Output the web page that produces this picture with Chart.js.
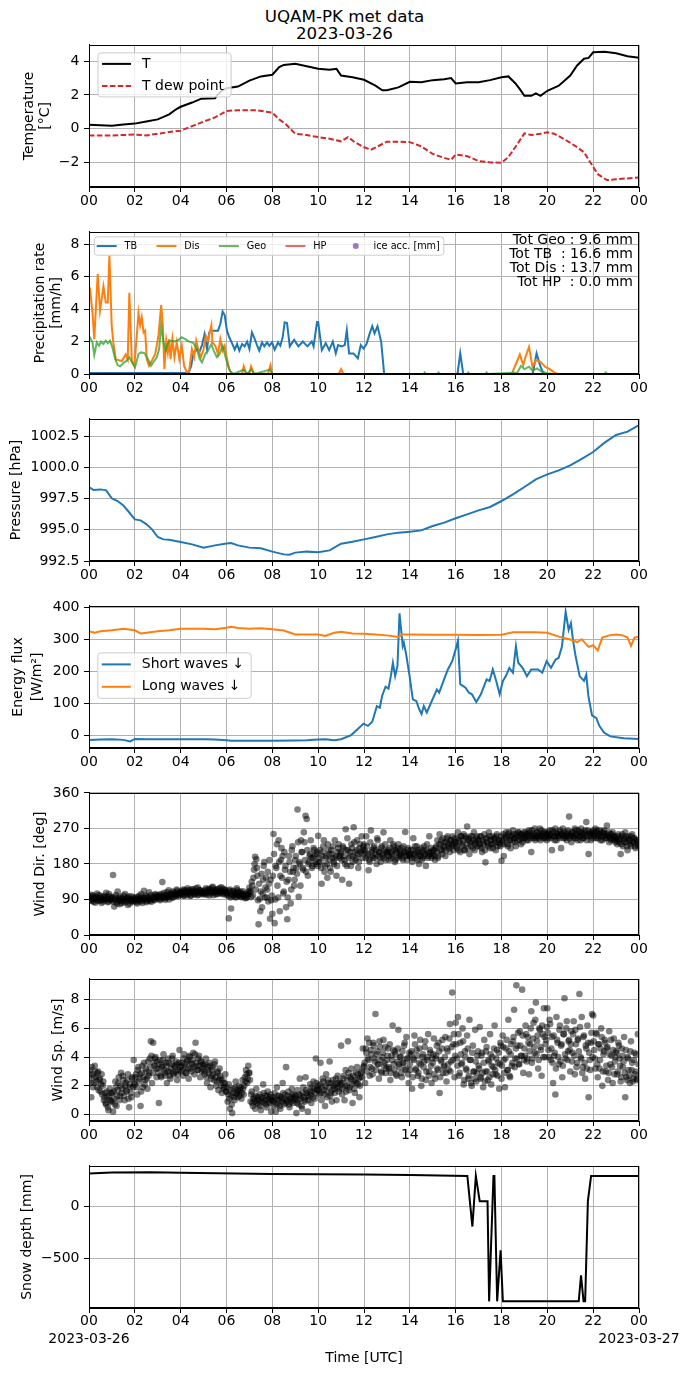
<!DOCTYPE html>
<html lang="en">
<head>
<meta charset="utf-8">
<title>UQAM-PK met data</title>
<script src="https://cdn.jsdelivr.net/npm/chart.js@4.4.1/dist/chart.umd.min.js"></script>
<style>
  html, body { margin: 0; padding: 0; background: #fff; }
  #page { position: relative; width: 689px; height: 1377px; overflow: hidden; }
  #page canvas { position: absolute; left: 0; }
  #suptitle {
    position: absolute; left: 0; top: 8.4px; width: 689px;
    text-align: center; color: #000;
    font-family: "DejaVu Sans", sans-serif; font-size: 16.7px; line-height: 16.6px;
  }
</style>
</head>
<body>
<div id="page">
  <div id="suptitle">UQAM-PK met data<br>2023-03-26</div>
  <canvas id="tempChart"></canvas>
  <canvas id="precipChart"></canvas>
  <canvas id="pressChart"></canvas>
  <canvas id="fluxChart"></canvas>
  <canvas id="dirChart"></canvas>
  <canvas id="speedChart"></canvas>
  <canvas id="snowChart"></canvas>
</div>
<script>
// ---- data (hours UTC) ----
const hourTicks = [0, 2, 4, 6, 8, 10, 12, 14, 16, 18, 20, 22, 24];
const dayLabels = ['2023-03-26', '2023-03-27'];

// air temperature / dew point [°C]
const tempHours = [0, 0.5, 1, 1.5, 2, 2.5, 3, 3.5, 3.8, 4, 4.5, 4.9, 5.5, 5.6, 5.8, 6, 6.5, 7, 7.5, 8,
  8.3, 8.5, 9, 9.5, 10, 10.5, 10.8, 11, 11.5, 12, 12.5, 12.8, 13, 13.5, 14, 14.5, 15, 15.5, 15.8, 16,
  16.5, 17, 17.5, 18, 18.3, 18.6, 18.8, 19, 19.3, 19.5, 19.7, 20, 20.5, 21, 21.3, 21.6, 21.8, 22, 22.5, 23,
  23.5, 24];
const tempAir = [0.24, 0.2, 0.17, 0.25, 0.3, 0.42, 0.55, 0.85, 1.15, 1.3, 1.55, 1.78, 1.8, 2.0, 2.25, 2.4, 2.5, 2.85, 3.1, 3.2,
  3.65, 3.78, 3.85, 3.7, 3.55, 3.5, 3.55, 3.15, 3.05, 2.9, 2.55, 2.28, 2.28, 2.45, 2.78, 2.75, 2.88, 2.93, 3.0, 2.68,
  2.75, 2.75, 2.88, 3.05, 3.1, 2.7, 2.35, 1.95, 1.95, 2.1, 1.95, 2.25, 2.55, 3.15, 3.75, 4.15, 4.2, 4.53, 4.57, 4.47,
  4.3, 4.2];
const dewHours = [0, 1, 2, 2.5, 3, 3.5, 4, 4.5, 5, 5.5, 6, 6.5, 7, 7.3, 8, 8.3, 8.6, 9, 9.5, 10,
  10.5, 11, 11.3, 11.6, 12, 12.3, 12.6, 13, 13.5, 14, 14.5, 15, 15.5, 15.8, 16, 16.5, 17, 17.5, 18, 18.3,
  18.6, 19, 19.3, 19.7, 20, 20.3, 20.8, 21.3, 21.6, 21.9, 22.2, 22.6, 23, 23.5, 24];
const dewPoint = [-0.4, -0.4, -0.35, -0.4, -0.3, -0.2, -0.12, 0.15, 0.42, 0.67, 1.05, 1.1, 1.1, 1.1, 0.95, 0.55, 0.25, -0.3, -0.38, -0.5,
  -0.6, -0.75, -0.5, -0.8, -1.1, -1.25, -1.05, -0.77, -0.77, -0.8, -1.05, -1.5, -1.73, -1.85, -1.53, -1.63, -1.92, -2.0, -2.02, -1.68,
  -1.1, -0.28, -0.38, -0.3, -0.22, -0.3, -0.67, -1.1, -1.4, -2.05, -2.7, -3.05, -3.0, -2.95, -2.9];
const tempTicks = [-2, 0, 2, 4];

// precipitation rate [mm/h]
const tbHours = [0, 4.34, 4.46, 4.56, 4.71, 4.81, 4.93, 5.04, 5.15, 5.25, 5.36, 5.63, 5.73, 5.83, 5.92, 6.02, 6.12, 6.24, 6.36, 6.46,
  6.56, 6.68, 6.79, 6.9, 7.0, 7.11, 7.22, 7.33, 7.43, 7.55, 7.65, 7.77, 7.87, 7.99, 8.1, 8.25, 8.35, 8.45, 8.54, 8.64,
  8.76, 8.95, 9.14, 9.33, 9.53, 9.72, 9.8, 9.95, 10.0, 10.16, 10.33, 10.48, 10.64, 10.77, 10.87, 11.02, 11.16, 11.25, 11.35, 11.54,
  11.73, 11.86, 11.98, 12.11, 12.25, 12.36, 12.46, 12.59, 12.75, 12.88, 16.08, 16.2, 16.33, 19.36, 19.53, 19.7, 19.84, 24];
const tbRate = [0.06, 0.06, 0.5, 1.33, 1.5, 1.33, 1.78, 2.44, 1.54, 2.56, 2.67, 2.67, 3.08, 3.84, 3.63, 2.67, 2.26, 1.9, 1.5, 1.85,
  1.44, 1.85, 1.7, 2.0, 1.54, 2.56, 2.2, 1.78, 1.44, 1.95, 1.7, 1.95, 1.74, 1.95, 1.5, 1.95, 1.74, 2.26, 3.18, 3.14,
  1.7, 2.1, 1.7, 2.0, 1.7, 2.0, 1.7, 3.2, 3.2, 1.47, 1.9, 1.47, 2.0, 1.27, 1.78, 1.7, 1.78, 2.7, 1.27, 1.27,
  0.96, 1.78, 1.57, 1.84, 2.5, 2.94, 2.5, 2.94, 1.98, 0, 0, 1.27, 0, 0, 1.27, 0.45, 0, 0];
const disHours = [0, 0.04, 0.15, 0.23, 0.38, 0.48, 0.63, 0.73, 0.82, 0.89, 0.99, 1.06, 1.17, 1.43, 1.6, 1.69, 1.76, 1.87, 1.98, 2.16,
  2.23, 2.3, 2.38, 2.45, 2.52, 2.62, 2.74, 2.89, 3.03, 3.15, 3.22, 3.29, 3.37, 3.44, 3.5, 3.56, 3.64, 3.73, 3.83, 3.94,
  4.05, 4.15, 4.27, 4.37, 4.49, 4.59, 4.68, 4.78, 4.88, 5.0, 5.1, 5.19, 5.34, 5.39, 5.51, 5.63, 5.73, 5.83, 5.92, 6.02,
  6.12, 6.24, 6.68, 6.75, 6.85, 7.0, 7.07, 7.19, 7.81, 7.92, 7.99, 10.9, 11.0, 11.1, 18.45, 18.8, 18.95, 19.05, 19.2, 19.35,
  19.5, 19.7, 19.9, 20.1, 20.3, 20.45, 24];
const disRate = [5.2, 5.33, 3.8, 2.15, 6.15, 3.9, 5.4, 4.4, 4.4, 7.3, 3.0, 1.95, 0.9, 0.8, 1.2, 0.9, 5.0, 0.82, 0.5, 3.75,
  3.0, 3.5, 2.56, 2.67, 0.92, 0.5, 0.82, 1.23, 2.36, 4.25, 3.0, 0.3, 2.05, 1.33, 2.15, 0.92, 2.15, 1.03, 1.95, 0.92,
  1.74, 0.5, 0.1, 0.2, 1.54, 1.03, 2.05, 1.44, 1.03, 1.54, 2.36, 2.05, 3.0, 1.95, 1.74, 1.23, 2.15, 1.44, 1.74, 0.92,
  0.3, 0, 0, 0.47, 0.06, 0.06, 0.47, 0.02, 0.02, 0.55, 0, 0, 0.3, 0, 0, 1.2, 0.55, 1.06, 1.67, 0.45,
  0.85, 0.75, 0.45, 0.3, 0.1, 0, 0];
const geoHours = [0, 0.04, 0.15, 0.23, 0.34, 0.44, 0.52, 0.63, 0.73, 0.82, 0.92, 1.02, 1.14, 1.25, 1.36, 1.5, 1.65, 1.76, 1.87, 2.01,
  2.16, 2.27, 2.42, 2.57, 2.71, 2.81, 2.96, 3.06, 3.15, 3.25, 3.35, 3.47, 3.62, 3.76, 3.91, 4.05, 4.2, 4.37, 4.56, 4.71,
  4.83, 4.93, 5.07, 5.19, 5.34, 5.44, 5.58, 5.7, 5.83, 5.95, 6.06, 6.17, 6.31, 6.75, 6.9, 7.08, 7.23, 7.89, 8.02, 14.6,
  14.65, 14.7, 15.2, 15.25, 15.3, 16.5, 16.55, 16.6, 17.3, 17.35, 17.4, 18.7, 18.85, 19.0, 19.2, 19.35, 19.55, 19.75, 20.0, 20.2,
  22.5, 22.55, 22.6, 24];
const geoRate = [2.3, 2.26, 1.95, 1.17, 1.95, 1.74, 1.99, 1.85, 2.05, 1.9, 2.05, 1.64, 0.92, 0.55, 0.47, 0.68, 0.82, 1.03, 0.72, 0.41,
  1.23, 1.33, 1.29, 0.92, 0.51, 0.72, 1.03, 1.54, 3.0, 1.95, 1.44, 2.0, 2.05, 2.0, 2.1, 2.26, 2.15, 1.99, 1.9, 1.54,
  0.92, 0.72, 1.23, 1.44, 1.85, 1.44, 1.03, 1.23, 1.74, 1.1, 0.51, 0.15, 0, 0.27, 0, 0.27, 0, 0.27, 0, 0,
  0.1, 0, 0, 0.1, 0, 0, 0.1, 0, 0, 0.1, 0, 0.1, 0.5, 0.3, 0.45, 0.2, 0.35, 0.15, 0.05, 0,
  0, 0.1, 0, 0];
const hpHours = [0, 24];
const hpRate = [0, 0];
const precipTicks = [0, 2, 4, 6, 8];
const totLabels = ['Tot Geo : 9.6 mm', 'Tot TB  : 16.6 mm', 'Tot Dis : 13.7 mm', 'Tot HP  : 0.0 mm'];

// pressure [hPa]
const pressHours = [0, 0.2, 0.5, 0.75, 1, 1.25, 1.5, 1.75, 2, 2.25, 2.5, 2.75, 3, 3.25, 3.5, 4, 4.5, 5, 5.5, 6,
  6.2, 6.5, 7, 7.5, 8, 8.5, 8.75, 9, 9.5, 10, 10.5, 11, 11.5, 12, 12.5, 13, 13.5, 14, 14.5, 15,
  15.5, 16, 16.5, 17, 17.5, 18, 18.5, 19, 19.5, 20, 20.5, 21, 21.5, 22, 22.5, 23, 23.5, 24];
const pressure = [998.42, 998.18, 998.23, 998.15, 997.5, 997.3, 996.95, 996.4, 995.83, 995.75, 995.45, 995.03, 994.42, 994.23, 994.2, 994.02, 993.83, 993.57, 993.75, 993.9,
  993.93, 993.75, 993.57, 993.52, 993.25, 993.03, 993.0, 993.17, 993.25, 993.2, 993.35, 993.88, 994.04, 994.23, 994.42, 994.63, 994.77, 994.85, 994.95, 995.3,
  995.57, 995.92, 996.23, 996.55, 996.82, 997.3, 997.83, 998.42, 999.03, 999.43, 999.75, 1000.15, 1000.68, 1001.22, 1001.97, 1002.58, 1002.85, 1003.38];
const pressTicks = [992.5, 995, 997.5, 1000, 1002.5];

// downward radiation [W/m2]
const swHours = [0, 0.5, 1, 1.5, 1.8, 2, 2.5, 3, 4, 5, 5.5, 6, 6.2, 7, 8, 9, 9.5, 10, 10.3, 10.7,
  11, 11.44, 11.73, 11.98, 12.17, 12.36, 12.56, 12.69, 12.79, 12.94, 13.07, 13.17, 13.26, 13.36, 13.46, 13.55, 13.69, 13.74, 13.84, 13.99,
  14.13, 14.28, 14.41, 14.51, 14.61, 14.74, 14.99, 15.18, 15.28, 15.47, 15.66, 15.85, 16.0, 16.1, 16.2, 16.43, 16.58, 16.71, 16.9, 17.1,
  17.35, 17.48, 17.62, 17.77, 17.92, 18.06, 18.19, 18.34, 18.5, 18.63, 18.73, 18.92, 19.11, 19.3, 19.59, 19.78, 19.97, 20.16, 20.36, 20.49,
  20.64, 20.8, 20.93, 21.03, 21.12, 21.22, 21.41, 21.6, 21.7, 21.79, 21.95, 22.14, 22.27, 22.47, 22.75, 23.33, 24];
const shortWave = [-15, -14, -13, -15, -20, -12, -13, -13, -13, -13, -14, -16, -18, -18, -18, -17, -16, -14, -13, -16,
  -13, 0, 19, 36, 29, 42, 91, 86, 123, 152, 146, 185, 227, 185, 217, 382, 279, 290, 253, 185,
  112, 107, 81, 66, 91, 71, 112, 143, 133, 170, 206, 232, 269, 297, 160, 149, 133, 128, 104, 128,
  175, 170, 206, 170, 128, 170, 185, 211, 196, 279, 227, 211, 185, 206, 206, 196, 232, 211, 237, 242,
  279, 387, 330, 351, 299, 253, 185, 170, 190, 123, 62, 53, 29, 8, -4, -10, -12];
const lwHours = [0, 0.25, 0.5, 1, 1.5, 2, 2.25, 2.5, 3, 3.5, 4, 4.5, 5, 5.5, 6, 6.2, 6.5, 7, 7.5, 8,
  8.5, 9, 9.5, 10, 10.3, 10.7, 11, 11.5, 12, 12.5, 13, 13.5, 13.7, 14, 15, 16, 17, 18, 18.5, 19,
  19.5, 20, 20.5, 21, 21.3, 21.5, 21.8, 22, 22.2, 22.4, 22.7, 23, 23.3, 23.5, 23.65, 23.8, 24];
const longWave = [326, 321, 326, 329, 334, 329, 319, 321, 326, 329, 334, 334, 334, 332, 337, 340, 336, 334, 335, 332,
  328, 316, 316, 316, 311, 321, 324, 319, 318, 316, 313, 308, 316, 316, 315, 315, 314, 315, 323, 323,
  323, 321, 309, 300, 292, 301, 277, 282, 266, 306, 313, 316, 313, 306, 280, 306, 309];
const fluxTicks = [0, 100, 200, 300, 400];

// wind, one row per hour, 3-min samples; the "B" arrays sit halfway between
const windDir = [
  95, 88, 102, 90, 84, 97, 92, 105, 86, 93, 99, 81, 90, 96, 88, 107, 92, 85, 98, 91,
  88, 152, 72, 95, 84, 110, 90, 78, 93, 86, 100, 82, 89, 95, 76, 91, 87, 98, 84, 92,
  86, 95, 80, 91, 99, 85, 93, 88, 112, 94, 83, 97, 90, 86, 101, 92, 95, 88, 104, 96,
  92, 98, 88, 104, 134, 95, 100, 93, 108, 97, 90, 103, 99, 110, 96, 105, 101, 112, 98, 106,
  108, 103, 115, 99, 110, 106, 118, 104, 112, 100, 109, 116, 103, 111, 107, 120, 102, 113, 108, 105,
  110, 104, 118, 107, 113, 100, 116, 109, 122, 106, 111, 103, 115, 108, 119, 112, 105, 117, 110, 113,
  102, 108, 42, 115, 67, 98, 112, 104, 95, 118, 106, 100, 110, 97, 104, 99, 93, 101, 96, 104,
  120, 108, 135, 100, 165, 198, 192, 150, 27, 92, 110, 70, 140, 185, 120, 95, 160, 130, 41, 88,
  54, 256, 30, 175, 230, 95, 185, 150, 220, 200, 110, 165, 70, 40, 140, 185, 80, 215, 160, 125,
  190, 170, 318, 97, 180, 240, 210, 165, 235, 302, 294, 150, 185, 205, 195, 175, 220, 200, 180, 210,
  251, 195, 185, 130, 210, 240, 175, 200, 145, 215, 190, 160, 205, 225, 180, 195, 150, 210, 230, 200,
  205, 140, 220, 190, 268, 175, 215, 130, 200, 230, 185, 273, 210, 195, 240, 170, 220, 205, 250, 215,
  230, 210, 250, 200, 164, 185, 265, 215, 195, 225, 205, 180, 240, 210, 195, 220, 200, 260, 215, 190,
  205, 215, 190, 240, 210, 200, 225, 185, 215, 195, 230, 205, 200, 220, 190, 210, 261, 205, 215, 200,
  200, 215, 185, 245, 205, 195, 225, 210, 180, 200, 220, 195, 215, 205, 175, 230, 200, 250, 210, 195,
  205, 215, 190, 225, 240, 200, 255, 230, 215, 245, 220, 200, 235, 250, 225, 210, 240, 230, 215, 245,
  235, 220, 260, 240, 210, 250, 230, 255, 215, 245, 275, 240, 205, 250, 235, 220, 260, 230, 245, 225,
  240, 225, 250, 210, 235, 255, 184, 245, 230, 260, 220, 240, 250, 230, 245, 215, 255, 235, 240, 225,
  188, 235, 200, 245, 260, 230, 255, 240, 220, 250, 265, 245, 235, 255, 240, 260, 250, 230, 255, 245,
  250, 260, 240, 255, 265, 245, 210, 255, 250, 270, 245, 260, 250, 255, 240, 265, 250, 260, 245, 255,
  255, 245, 265, 250, 215, 260, 250, 270, 240, 255, 250, 265, 220, 255, 245, 260, 250, 240, 265, 300,
  250, 235, 260, 250, 270, 245, 255, 265, 250, 240, 260, 245, 255, 265, 286, 250, 205, 260, 240, 255,
  265, 250, 270, 260, 245, 255, 265, 250, 240, 260, 255, 245, 277, 250, 235, 255, 245, 260, 240, 250,
  245, 230, 255, 240, 205, 250, 225, 245, 260, 235, 215, 250, 240, 225, 255, 235, 245, 220, 240, 230
];
const windDirB = [
  91, 98, 86, 100, 93, 82, 95, 89, 101, 87, 94, 90, 85, 99, 92, 96, 83, 104, 89, 94,
  96, 84, 90, 101, 79, 93, 87, 97, 82, 91, 88, 104, 85, 93, 98, 80, 90, 86, 95, 89,
  90, 83, 97, 87, 92, 104, 81, 95, 89, 99, 86, 93, 108, 91, 84, 97, 89, 101, 93, 99,
  96, 102, 91, 99, 94, 107, 89, 101, 96, 113, 99, 105, 94, 102, 108, 99, 115, 104, 101, 109,
  104, 111, 100, 114, 107, 101, 113, 108, 99, 116, 106, 111, 104, 118, 101, 109, 114, 106, 111, 103,
  107, 114, 102, 111, 117, 105, 109, 120, 101, 114, 108, 116, 104, 111, 106, 121, 109, 103, 115, 107,
  106, 99, 112, 95, 103, 110, 100, 107, 97, 113, 101, 108, 96, 103, 111, 98, 105, 94, 102, 110,
  112, 96, 125, 145, 180, 115, 170, 88, 130, 60, 155, 105, 175, 95, 145, 115, 85, 190, 140, 100,
  150, 205, 90, 170, 125, 240, 60, 190, 145, 105, 210, 175, 135, 95, 200, 160, 115, 225, 170, 140,
  200, 155, 235, 185, 125, 210, 170, 260, 190, 160, 215, 180, 200, 240, 170, 195, 215, 185, 205, 175,
  185, 215, 170, 200, 225, 160, 195, 180, 230, 205, 170, 215, 195, 185, 240, 200, 175, 220, 195, 210,
  190, 225, 200, 180, 215, 245, 195, 210, 175, 220, 200, 235, 190, 215, 205, 185, 230, 210, 195, 225,
  215, 195, 225, 205, 190, 235, 210, 200, 220, 195, 215, 245, 200, 210, 185, 225, 205, 195, 230, 210,
  210, 200, 220, 195, 205, 230, 215, 190, 210, 220, 200, 215, 205, 195, 225, 210, 200, 190, 220, 205,
  205, 195, 215, 200, 225, 210, 190, 215, 205, 200, 190, 210, 225, 200, 215, 195, 210, 205, 220, 200,
  215, 200, 220, 210, 195, 230, 215, 240, 205, 225, 235, 215, 245, 230, 220, 240, 225, 250, 235, 230,
  225, 245, 215, 235, 250, 225, 240, 215, 250, 230, 220, 245, 235, 225, 250, 240, 215, 235, 250, 240,
  230, 250, 220, 240, 230, 215, 245, 235, 225, 250, 240, 230, 220, 245, 235, 250, 225, 240, 230, 250,
  240, 255, 230, 250, 245, 225, 260, 240, 250, 235, 255, 245, 225, 250, 260, 240, 255, 245, 235, 260,
  245, 255, 250, 240, 260, 250, 265, 245, 255, 240, 250, 260, 245, 270, 250, 255, 245, 260, 250, 240,
  260, 250, 255, 245, 265, 250, 240, 260, 255, 250, 245, 260, 255, 270, 250, 245, 255, 260, 250, 245,
  255, 260, 250, 245, 265, 255, 240, 260, 250, 270, 255, 245, 260, 250, 240, 265, 255, 250, 260, 245,
  255, 260, 245, 265, 250, 255, 240, 260, 250, 265, 245, 255, 250, 260, 245, 240, 255, 250, 245, 235,
  240, 250, 235, 245, 230, 255, 240, 235, 250, 225, 245, 240, 230, 250, 235, 245, 225, 240, 235, 225
];
const windSpeed = [
  2.5, 3.1, 1.2, 2.8, 2.2, 3.4, 2.6, 1.9, 3.0, 2.4, 1.6, 2.8, 2.0, 1.0, 1.5, 0.7, 1.2, 0.3, 1.8, 0.9,
  1.5, 0.2, 1.1, 2.3, 0.6, 1.7, 2.6, 1.3, 2.9, 1.8, 2.4, 1.0, 2.2, 1.6, 2.8, 0.5, 1.9, 1.2, 2.5, 3.8,
  2.1, 2.8, 1.4, 3.3, 2.5, 0.6, 2.9, 1.9, 3.6, 2.4, 3.0, 1.8, 2.7, 3.9, 5.1, 2.2, 5.0, 3.4, 4.0, 2.6,
  3.2, 0.8, 3.8, 2.6, 3.4, 4.2, 2.9, 3.6, 2.2, 3.9, 3.0, 2.5, 3.5, 4.1, 2.8, 3.3, 3.7, 2.4, 3.1, 4.5,
  3.0, 3.6, 2.7, 4.2, 3.3, 2.9, 3.8, 2.5, 4.0, 3.2, 3.5, 4.3, 2.8, 5.0, 3.4, 3.1, 4.1, 2.6, 3.7, 3.2,
  3.4, 2.8, 3.9, 2.2, 3.1, 3.6, 1.9, 2.7, 3.3, 2.4, 3.7, 2.0, 2.9, 1.7, 3.2, 2.5, 1.5, 2.2, 1.9, 2.8,
  1.6, 0.9, 2.1, 0.4, 1.3, 0.1, 1.8, 1.0, 2.3, 1.5, 1.2, 2.0, 1.7, 1.1, 2.4, 1.4, 2.6, 3.1, 2.2, 3.4,
  2.9, 0.9, 1.6, 0.6, 1.2, 0.4, 1.8, 1.0, 0.7, 1.4, 0.3, 1.1, 2.1, 0.8, 1.3, 0.5, 1.6, 0.9, 1.2, 0.2,
  1.0, 0.6, 1.5, 0.2, 1.9, 0.8, 1.3, 0.4, 1.1, 2.2, 0.7, 1.4, 3.3, 0.9, 1.6, 0.5, 1.2, 1.8, 0.8, 1.4,
  1.1, 0.1, 1.7, 0.7, 2.5, 1.3, 0.4, 1.9, 1.0, 2.6, 1.5, 0.2, 1.2, 2.1, 0.8, 1.6, 2.3, 1.1, 3.9, 1.8,
  2.0, 1.4, 3.6, 1.0, 2.5, 1.7, 0.6, 2.8, 1.2, 2.2, 3.7, 1.5, 0.9, 2.4, 1.8, 2.1, 1.0, 2.7, 1.6, 2.3,
  4.8, 1.4, 2.5, 1.0, 3.1, 2.0, 5.1, 1.7, 2.6, 3.2, 0.8, 2.3, 1.5, 2.9, 3.3, 2.1, 1.2, 2.6, 3.0, 4.6,
  3.4, 2.2, 4.3, 5.3, 3.8, 2.7, 4.5, 3.2, 5.0, 3.9, 7.0, 4.2, 3.5, 2.5, 4.7, 3.0, 4.0, 5.2, 3.6, 2.9,
  3.8, 4.6, 3.2, 2.4, 4.1, 6.2, 3.5, 4.4, 2.8, 3.7, 5.9, 3.3, 4.0, 2.6, 3.6, 4.8, 3.1, 5.4, 3.9, 2.2,
  3.5, 4.2, 1.8, 3.9, 5.5, 3.1, 4.5, 2.7, 3.6, 5.2, 2.0, 4.0, 3.3, 4.7, 2.4, 3.8, 5.6, 3.0, 4.3, 2.2,
  3.6, 5.3, 2.5, 4.1, 3.2, 5.0, 1.5, 3.8, 4.6, 2.9, 3.4, 5.4, 2.3, 4.4, 3.1, 6.3, 3.7, 8.5, 4.9, 2.6,
  6.4, 3.9, 6.8, 2.7, 5.0, 3.5, 6.0, 2.1, 4.4, 3.2, 5.5, 2.5, 6.6, 3.8, 2.0, 4.8, 3.0, 5.9, 2.3, 4.1,
  3.4, 6.1, 2.6, 4.3, 1.9, 5.2, 3.0, 4.7, 2.4, 3.7, 5.6, 2.1, 4.0, 3.3, 6.2, 2.8, 4.5, 3.6, 1.8, 5.0,
  2.5, 5.5, 3.8, 1.9, 4.6, 3.1, 6.6, 2.7, 4.2, 3.4, 5.1, 7.3, 3.9, 9.0, 4.8, 3.5, 5.8, 4.1, 8.7, 2.9,
  4.6, 6.2, 3.7, 5.4, 2.8, 4.9, 7.2, 3.9, 6.4, 4.3, 7.8, 5.1, 3.2, 6.0, 4.7, 2.7, 5.6, 7.4, 4.0, 5.2,
  7.4, 4.5, 6.6, 3.8, 5.4, 2.2, 4.1, 1.4, 6.8, 5.0, 3.5, 6.2, 4.8, 2.6, 5.6, 8.1, 3.9, 6.5, 4.4, 5.2,
  3.0, 5.8, 4.3, 6.5, 2.8, 4.9, 3.6, 5.3, 8.4, 4.0, 6.8, 3.3, 5.5, 2.5, 4.6, 6.2, 1.2, 3.8, 5.0, 7.0,
  6.9, 4.5, 3.2, 5.6, 2.6, 4.9, 3.8, 6.0, 2.0, 4.2, 5.2, 3.0, 4.6, 2.4, 5.8, 3.5, 4.1, 2.2, 5.3, 3.7,
  4.4, 2.8, 5.0, 3.9, 2.3, 4.6, 3.3, 5.4, 1.2, 2.6, 4.0, 3.1, 2.2, 5.1, 3.6, 2.5, 4.3, 3.0, 2.4, 5.6
];
const windSpeedB = [
  2.8, 2.2, 3.3, 1.9, 2.6, 3.0, 2.3, 2.9, 1.7, 2.5, 2.1, 1.4, 2.3, 1.2, 0.8, 1.6, 0.5, 1.3, 1.0, 1.5,
  0.9, 1.6, 0.7, 1.9, 1.3, 2.2, 1.0, 2.0, 1.5, 2.7, 1.3, 2.0, 1.7, 2.4, 1.1, 2.1, 1.5, 2.6, 1.9, 2.2,
  2.6, 1.9, 3.1, 2.3, 2.8, 1.6, 3.4, 2.6, 2.1, 3.2, 2.5, 3.7, 2.9, 3.3, 4.1, 2.9, 3.6, 3.9, 3.2, 3.7,
  2.9, 3.5, 2.7, 3.3, 3.8, 3.1, 2.7, 3.4, 3.0, 3.6, 2.7, 3.2, 3.9, 2.9, 3.4, 3.0, 3.5, 2.8, 3.6, 3.3,
  3.4, 3.1, 3.9, 3.5, 2.9, 3.7, 3.2, 4.1, 3.6, 3.0, 3.8, 3.3, 4.2, 3.6, 3.1, 3.9, 3.4, 3.7, 3.0, 3.5,
  3.0, 3.5, 2.6, 3.3, 2.9, 3.4, 2.5, 3.1, 2.8, 3.5, 2.6, 2.3, 3.0, 2.4, 2.7, 2.0, 2.4, 1.8, 2.2, 1.6,
  1.9, 1.4, 1.1, 1.7, 0.7, 1.5, 1.2, 1.9, 1.4, 1.7, 1.6, 1.3, 1.9, 1.5, 1.8, 2.0, 2.3, 2.8, 2.5, 2.9,
  2.4, 1.4, 0.8, 1.1, 0.9, 1.3, 0.8, 1.2, 1.0, 0.6, 1.2, 0.9, 1.5, 1.0, 0.7, 1.3, 1.1, 0.8, 1.4, 1.0,
  1.2, 0.9, 1.1, 0.7, 1.3, 1.0, 0.6, 1.2, 0.9, 1.5, 1.1, 0.8, 1.0, 1.3, 0.7, 1.1, 0.9, 1.4, 1.0, 1.2,
  1.3, 0.8, 1.0, 1.4, 1.1, 0.6, 1.5, 1.2, 0.9, 1.7, 1.3, 1.0, 1.6, 1.4, 1.9, 1.2, 1.8, 1.5, 2.2, 1.7,
  1.7, 2.1, 1.5, 1.9, 2.3, 1.4, 2.0, 1.6, 2.4, 1.9, 1.3, 2.2, 1.7, 2.0, 1.5, 2.5, 1.9, 2.2, 1.8, 2.1,
  2.2, 1.8, 2.7, 2.0, 1.6, 2.4, 2.9, 1.9, 2.5, 2.1, 2.7, 1.8, 2.4, 2.2, 2.8, 2.5, 2.0, 2.9, 2.6, 3.3,
  3.6, 4.6, 3.0, 3.9, 5.0, 3.3, 4.2, 2.8, 4.8, 3.7, 3.1, 4.4, 3.5, 5.1, 3.8, 2.9, 4.3, 3.4, 4.7, 3.2,
  4.1, 3.3, 4.9, 2.9, 3.8, 4.5, 3.1, 4.2, 2.7, 4.6, 3.5, 4.0, 2.9, 4.4, 3.6, 5.0, 3.2, 3.9, 2.8, 4.3,
  3.1, 4.4, 2.6, 3.8, 4.9, 3.2, 4.1, 2.9, 4.6, 3.5, 2.5, 4.2, 3.7, 5.1, 3.0, 4.0, 2.7, 4.5, 3.4, 3.9,
  4.2, 2.8, 3.9, 4.8, 3.1, 4.4, 2.6, 3.7, 5.2, 3.3, 4.0, 2.9, 4.6, 3.5, 5.3, 3.0, 4.7, 3.8, 5.6, 4.1,
  4.9, 3.4, 5.6, 2.9, 4.2, 3.6, 5.1, 2.4, 4.0, 3.1, 4.6, 2.7, 3.8, 2.2, 4.3, 3.0, 2.5, 3.7, 2.9, 4.4,
  3.2, 2.5, 4.1, 2.9, 3.6, 2.3, 4.4, 3.0, 3.8, 2.6, 4.2, 3.4, 2.8, 4.6, 3.1, 3.9, 2.7, 4.3, 3.5, 4.8,
  3.4, 4.7, 2.9, 3.9, 5.2, 3.1, 4.4, 2.6, 4.9, 3.6, 5.4, 3.3, 4.6, 3.9, 5.7, 3.5, 4.8, 4.1, 5.5, 3.8,
  4.1, 5.6, 3.9, 5.0, 4.4, 6.0, 3.6, 5.3, 4.7, 6.6, 4.2, 5.5, 3.8, 5.9, 4.5, 6.2, 4.0, 5.4, 4.9, 6.1,
  5.7, 4.0, 6.3, 4.6, 3.6, 5.5, 4.3, 3.2, 5.2, 4.0, 5.9, 3.7, 4.9, 3.4, 5.6, 4.2, 6.0, 3.8, 5.1, 4.5,
  4.9, 3.7, 5.6, 4.1, 5.9, 3.3, 5.2, 4.4, 6.1, 3.9, 2.9, 5.4, 3.6, 4.8, 3.2, 5.0, 4.3, 3.1, 5.7, 4.0,
  5.1, 3.9, 5.7, 3.5, 4.9, 3.2, 4.6, 5.4, 3.0, 4.4, 5.0, 3.4, 4.7, 2.9, 4.2, 5.2, 3.3, 4.5, 2.8, 4.0,
  4.3, 3.0, 4.8, 3.4, 2.6, 4.1, 3.7, 2.9, 4.5, 2.4, 3.9, 2.7, 4.4, 3.1, 2.3, 3.8, 2.8, 4.2, 2.5, 3.5
];
const dirTicks = [0, 90, 180, 270, 360];
const speedTicks = [0, 2, 4, 6, 8];

// snow depth [mm]
const snowHours = [0, 1, 2.7, 4, 8, 12, 14, 16.51, 16.73, 16.88, 17.05, 17.39, 17.46, 17.65, 17.69, 17.81, 17.96, 18.06, 21.37, 21.47,
  21.58, 21.65, 21.77, 21.91, 24];
const snowDepth = [318, 328, 330, 325, 315, 310, 305, 296, -191, 296, 51, 51, -910, 296, 296, -910, -420, -910, -910, -659,
  -910, -910, 57, 296, 296];
const snowTicks = [-500, 0];

// ---- layout / style ----
const FONT = '"DejaVu Sans", sans-serif';
const GRID = '#b0b0b0';
const PLOT_TOP = [44, 231, 418, 605, 792, 978, 1165];
const PLOT_H = 143;
const WIND_STEP = 0.05; // 3 minutes, in hours

function pairs(xs, ys) { return xs.map((x, i) => ({ x: x, y: ys[i] })); }
function sampled(vals, step, offset) { return vals.map((v, i) => ({ x: offset + i * step, y: v })); }
function hourLabel(v) { return String(v % 24).padStart(2, '0'); }
function minus(v) { return String(v).replace('-', '\u2212'); }

function lineSet(label, pts, color, order, extra) {
  return Object.assign({
    label: label, data: pts, borderColor: color, backgroundColor: color,
    borderWidth: 2, pointRadius: 0, tension: 0, order: order
  }, extra || {});
}
function dotSet(label, pts) {
  return {
    label: label, data: pts, pointRadius: 3.3, borderWidth: 0,
    backgroundColor: 'rgba(0,0,0,0.5)', borderColor: 'rgba(0,0,0,0.5)'
  };
}

// legend boxes drawn like matplotlib ones
const LEGENDS = {
  tempChart: { left: 9, top: 8, size: 14, pad: 4, handle: 29, gap: 11, first: 11, rowH: 22, items: [
    { label: 'T', color: '#000000' },
    { label: 'T dew point', color: '#d62728', dash: [5.5, 2.4] }
  ] },
  precipChart: { row: true, left: 5.4, top: 5, size: 9.7, pad: 2.3, handle: 20, gap: 7.8, colGap: 19.4, height: 18.3, items: [
    { label: 'TB', color: '#1f77b4' },
    { label: 'Dis', color: '#ff7f0e' },
    { label: 'Geo', color: 'rgba(44,160,44,0.75)' },
    { label: 'HP', color: 'rgba(214,39,40,0.7)' },
    { label: 'ice acc. [mm]', color: 'rgba(148,103,189,0.9)', marker: true }
  ] },
  fluxChart: { left: 8.8, top: 47, size: 14, pad: 4, handle: 29, gap: 11, first: 11.5, rowH: 22.4, items: [
    { label: 'Short waves \u2193', color: '#1f77b4' },
    { label: 'Long waves \u2193', color: '#ff7f0e' }
  ] }
};

const framePlugin = {
  id: 'frame',
  afterDatasetsDraw(chart) {
    const a = chart.chartArea, ctx = chart.ctx;
    const l = Math.round(a.left) + 0.5, t = Math.round(a.top) + 0.5;
    const r = Math.round(a.right) - 0.5, b = Math.round(a.bottom) - 0.5;
    ctx.save();
    ctx.strokeStyle = '#000';
    ctx.lineWidth = 1;
    ctx.strokeRect(l, t, r - l, b - t);
    ctx.restore();
  }
};

const legendPlugin = {
  id: 'boxLegend',
  afterDraw(chart) {
    const spec = LEGENDS[chart.canvas.id];
    if (!spec) return;
    const ctx = chart.ctx, a = chart.chartArea;
    const fx = a.left + spec.left, fy = a.top + spec.top;
    ctx.save();
    ctx.font = spec.size + 'px ' + FONT;
    const slots = [];
    let w, h;
    if (spec.row) {
      let cx = fx + spec.pad;
      spec.items.forEach(it => {
        const tw = ctx.measureText(it.label).width;
        slots.push({ it: it, hx: cx, tx: cx + spec.handle + spec.gap, cy: fy + spec.height / 2 });
        cx += spec.handle + spec.gap + tw + spec.colGap;
      });
      w = cx - spec.colGap + 4 - fx;
      h = spec.height;
    } else {
      let maxW = 0;
      spec.items.forEach((it, i) => {
        maxW = Math.max(maxW, ctx.measureText(it.label).width);
        slots.push({ it: it, hx: fx + spec.pad, tx: fx + spec.pad + spec.handle + spec.gap, cy: fy + spec.first + i * spec.rowH });
      });
      w = spec.pad + spec.handle + spec.gap + maxW + 7;
      h = 2 * spec.first + (spec.items.length - 1) * spec.rowH;
    }
    ctx.beginPath();
    if (ctx.roundRect) ctx.roundRect(fx, fy, w, h, 3); else ctx.rect(fx, fy, w, h);
    ctx.fillStyle = 'rgba(255,255,255,0.8)';
    ctx.fill();
    ctx.strokeStyle = '#cccccc';
    ctx.lineWidth = 1;
    ctx.stroke();
    ctx.textBaseline = 'middle';
    ctx.textAlign = 'left';
    slots.forEach(s => {
      const it = s.it;
      if (it.marker) {
        ctx.beginPath();
        ctx.arc(s.hx + spec.handle / 2, s.cy, 3, 0, 2 * Math.PI);
        ctx.fillStyle = it.color;
        ctx.fill();
      } else {
        ctx.beginPath();
        ctx.setLineDash(it.dash || []);
        ctx.moveTo(s.hx, s.cy);
        ctx.lineTo(s.hx + spec.handle, s.cy);
        ctx.strokeStyle = it.color;
        ctx.lineWidth = 2;
        ctx.stroke();
        ctx.setLineDash([]);
      }
      ctx.fillStyle = '#000';
      ctx.fillText(it.label, s.tx, s.cy);
    });
    ctx.restore();
  }
};

// precipitation totals in the upper right corner
const totalsPlugin = {
  id: 'totals',
  afterDraw(chart) {
    if (chart.canvas.id !== 'precipChart') return;
    const ctx = chart.ctx, a = chart.chartArea;
    ctx.save();
    ctx.font = '14px ' + FONT;
    ctx.fillStyle = '#000';
    ctx.textAlign = 'right';
    ctx.textBaseline = 'middle';
    totLabels.forEach((t, i) => ctx.fillText(t, a.right - 6, a.top + 8.5 + i * 14.1));
    ctx.restore();
  }
};

function makePanel(id, idx, o) {
  const canvas = document.getElementById(id);
  const top = PLOT_TOP[idx] - 12;
  const axisH = o.axisH || 30;
  const h = 12 + PLOT_H + axisH;
  canvas.width = 689;
  canvas.height = h;
  canvas.style.top = top + 'px';
  const grid = { color: GRID, lineWidth: 1, tickLength: 5, tickColor: '#000', tickWidth: 1 };
  const border = { color: '#000', width: 1 };
  return new Chart(canvas, {
    type: o.type || 'line',
    data: { datasets: o.datasets },
    plugins: [framePlugin, legendPlugin, totalsPlugin],
    options: {
      responsive: false,
      animation: false,
      devicePixelRatio: 1,
      layout: { padding: { left: o.padLeft, right: 50, top: 12, bottom: 0 } },
      plugins: { legend: { display: false }, tooltip: { enabled: false } },
      scales: {
        x: {
          type: 'linear', min: 0, max: 24,
          afterBuildTicks: s => { s.ticks = hourTicks.map(v => ({ value: v })); },
          afterFit: s => { s.height = axisH; },
          ticks: {
            autoSkip: false, maxRotation: 0, color: '#000',
            padding: o.xPad === undefined ? 0.6 : o.xPad,
            font: { family: FONT, size: 14, lineHeight: o.xLineHeight || 1.2 },
            callback: o.xLabel || hourLabel
          },
          grid: grid, border: border,
          title: o.xTitle
            ? { display: true, text: o.xTitle, color: '#000', font: { family: FONT, size: 14 }, padding: { top: 0, bottom: 10.3 } }
            : { display: false }
        },
        y: {
          type: 'linear', min: o.yMin, max: o.yMax,
          afterBuildTicks: s => { s.ticks = o.yTicks.map(v => ({ value: v })); },
          afterFit: s => { s.width = 89 - o.padLeft; },
          ticks: { padding: 4.5, color: '#000', font: { family: FONT, size: 14 }, callback: o.yLabel || minus },
          grid: grid, border: border,
          title: {
            display: true, text: o.yTitle, color: '#000', padding: 0,
            font: { family: FONT, size: 14, lineHeight: o.yTitleLH || 1.2 }
          }
        }
      }
    }
  });
}

// ---- panels ----
makePanel('tempChart', 0, {
  padLeft: 20.6, yMin: -3.46, yMax: 4.97, yTicks: tempTicks, yTitle: ['Temperature', '[°C]'],
  datasets: [
    lineSet('T', pairs(tempHours, tempAir), '#000000', 2),
    lineSet('T dew point', pairs(dewHours, dewPoint), '#d62728', 1, { borderDash: [5.5, 2.4] })
  ]
});

makePanel('precipChart', 1, {
  padLeft: 31.6, yMin: 0, yMax: 8.75, yTicks: precipTicks, yTitle: ['Precipitation rate', '[mm/h]'],
  datasets: [
    lineSet('TB', pairs(tbHours, tbRate), '#1f77b4', 4),
    lineSet('Dis', pairs(disHours, disRate), '#ff7f0e', 3),
    lineSet('Geo', pairs(geoHours, geoRate), 'rgba(44,160,44,0.75)', 2),
    lineSet('HP', pairs(hpHours, hpRate), 'rgba(214,39,40,0.7)', 1)
  ]
});

makePanel('pressChart', 2, {
  padLeft: 8.1, yMin: 992.5, yMax: 1003.87, yTicks: pressTicks, yTitle: 'Pressure [hPa]',
  yLabel: v => v.toFixed(1),
  datasets: [lineSet('Pressure', pairs(pressHours, pressure), '#1f77b4', 1)]
});

makePanel('fluxChart', 3, {
  padLeft: 8.1, yMin: -40.5, yMax: 405.5, yTicks: fluxTicks, yTitle: ['Energy flux', '[W/m²]'], yTitleLH: 1.4,
  datasets: [
    lineSet('Short waves', pairs(swHours, shortWave), '#1f77b4', 2),
    lineSet('Long waves', pairs(lwHours, longWave), '#ff7f0e', 1)
  ]
});

makePanel('dirChart', 4, {
  type: 'scatter', padLeft: 31.6, yMin: 0, yMax: 360, yTicks: dirTicks, yTitle: 'Wind Dir. [deg]',
  datasets: [dotSet('Wind direction',
    sampled(windDir, WIND_STEP, 0).concat(sampled(windDirB, WIND_STEP, WIND_STEP / 2)))]
});

makePanel('speedChart', 5, {
  type: 'scatter', padLeft: 49.6, yMin: -0.45, yMax: 9.45, yTicks: speedTicks, yTitle: 'Wind Sp. [m/s]',
  datasets: [dotSet('Wind speed',
    sampled(windSpeed, WIND_STEP, 0).concat(sampled(windSpeedB, WIND_STEP, WIND_STEP / 2)))]
});

makePanel('snowChart', 6, {
  padLeft: 18.6, yMin: -974, yMax: 392, yTicks: snowTicks, yTitle: 'Snow depth [mm]',
  axisH: 69, xPad: 0, xLineHeight: 1.25, xTitle: 'Time [UTC]',
  xLabel: v => (v === 0 ? ['00', dayLabels[0]] : v === 24 ? ['00', dayLabels[1]] : hourLabel(v)),
  datasets: [lineSet('Snow depth', pairs(snowHours, snowDepth), '#000000', 1)]
});
</script>
</body>
</html>
